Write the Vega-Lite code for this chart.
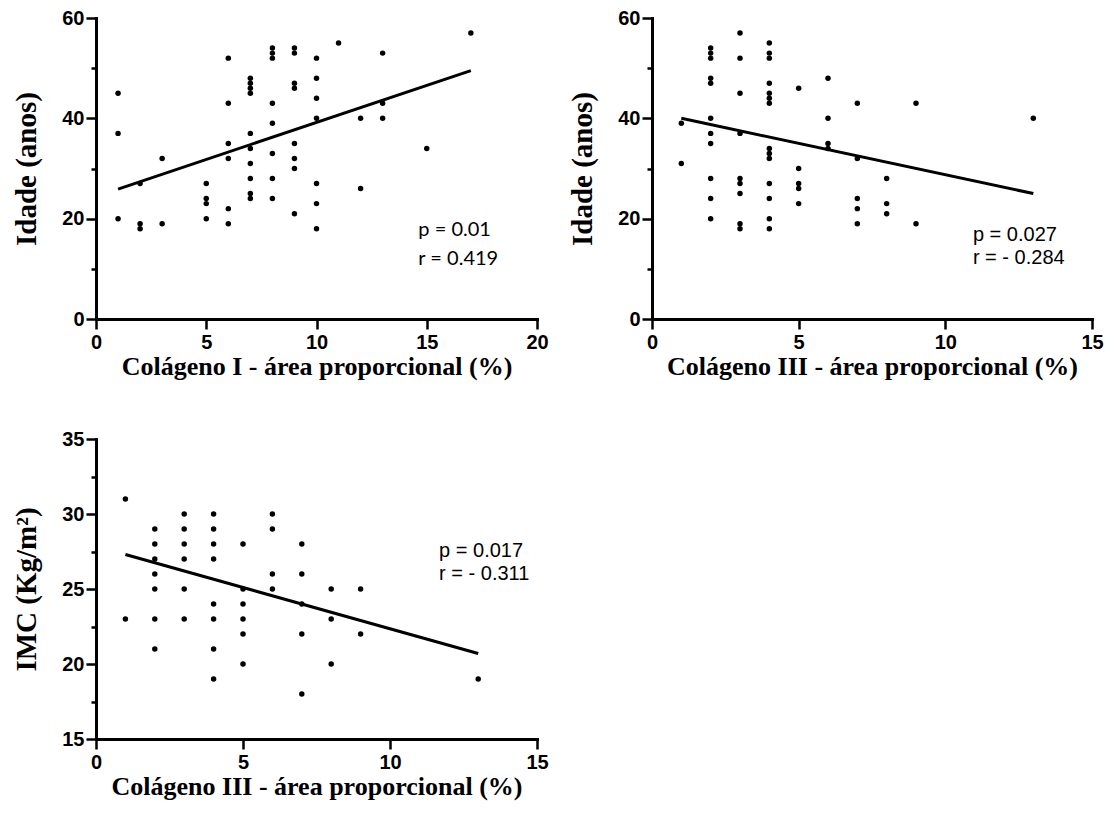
{
  "$schema": "https://vega.github.io/schema/vega-lite/v6.json",
  "background": "white",
  "padding": {"left": 12, "top": 8, "right": 5, "bottom": 5},
  "datasets": {
    "p1": [
      {"colageno": 1, "idade": 45}, {"colageno": 1, "idade": 37}, {"colageno": 1, "idade": 20},
      {"colageno": 2, "idade": 27}, {"colageno": 2, "idade": 19}, {"colageno": 2, "idade": 18},
      {"colageno": 3, "idade": 32}, {"colageno": 3, "idade": 19},
      {"colageno": 5, "idade": 27}, {"colageno": 5, "idade": 24}, {"colageno": 5, "idade": 23}, {"colageno": 5, "idade": 20},
      {"colageno": 6, "idade": 52}, {"colageno": 6, "idade": 43}, {"colageno": 6, "idade": 35}, {"colageno": 6, "idade": 32}, {"colageno": 6, "idade": 22}, {"colageno": 6, "idade": 19},
      {"colageno": 7, "idade": 48}, {"colageno": 7, "idade": 47}, {"colageno": 7, "idade": 46}, {"colageno": 7, "idade": 45}, {"colageno": 7, "idade": 37}, {"colageno": 7, "idade": 34}, {"colageno": 7, "idade": 31}, {"colageno": 7, "idade": 28}, {"colageno": 7, "idade": 25}, {"colageno": 7, "idade": 24},
      {"colageno": 8, "idade": 54}, {"colageno": 8, "idade": 53}, {"colageno": 8, "idade": 52}, {"colageno": 8, "idade": 43}, {"colageno": 8, "idade": 39}, {"colageno": 8, "idade": 33}, {"colageno": 8, "idade": 28}, {"colageno": 8, "idade": 24},
      {"colageno": 9, "idade": 54}, {"colageno": 9, "idade": 53}, {"colageno": 9, "idade": 47}, {"colageno": 9, "idade": 46}, {"colageno": 9, "idade": 35}, {"colageno": 9, "idade": 32}, {"colageno": 9, "idade": 30}, {"colageno": 9, "idade": 21},
      {"colageno": 10, "idade": 52}, {"colageno": 10, "idade": 48}, {"colageno": 10, "idade": 44}, {"colageno": 10, "idade": 40}, {"colageno": 10, "idade": 27}, {"colageno": 10, "idade": 23}, {"colageno": 10, "idade": 18},
      {"colageno": 11, "idade": 55},
      {"colageno": 12, "idade": 40}, {"colageno": 12, "idade": 26},
      {"colageno": 13, "idade": 53}, {"colageno": 13, "idade": 43}, {"colageno": 13, "idade": 40},
      {"colageno": 15, "idade": 34},
      {"colageno": 17, "idade": 57}
    ],
    "fit1": [{"colageno": 1, "idade": 25.9}, {"colageno": 17, "idade": 49.5}],
    "p2": [
      {"colageno": 1, "idade": 39}, {"colageno": 1, "idade": 31},
      {"colageno": 2, "idade": 54}, {"colageno": 2, "idade": 53}, {"colageno": 2, "idade": 52}, {"colageno": 2, "idade": 48}, {"colageno": 2, "idade": 47}, {"colageno": 2, "idade": 40}, {"colageno": 2, "idade": 37}, {"colageno": 2, "idade": 35}, {"colageno": 2, "idade": 28}, {"colageno": 2, "idade": 24}, {"colageno": 2, "idade": 20},
      {"colageno": 3, "idade": 57}, {"colageno": 3, "idade": 52}, {"colageno": 3, "idade": 45}, {"colageno": 3, "idade": 37}, {"colageno": 3, "idade": 28}, {"colageno": 3, "idade": 27}, {"colageno": 3, "idade": 25}, {"colageno": 3, "idade": 19}, {"colageno": 3, "idade": 18},
      {"colageno": 4, "idade": 55}, {"colageno": 4, "idade": 53}, {"colageno": 4, "idade": 52}, {"colageno": 4, "idade": 47}, {"colageno": 4, "idade": 45}, {"colageno": 4, "idade": 44}, {"colageno": 4, "idade": 43}, {"colageno": 4, "idade": 34}, {"colageno": 4, "idade": 33}, {"colageno": 4, "idade": 32}, {"colageno": 4, "idade": 27}, {"colageno": 4, "idade": 24}, {"colageno": 4, "idade": 20}, {"colageno": 4, "idade": 18},
      {"colageno": 5, "idade": 46}, {"colageno": 5, "idade": 30}, {"colageno": 5, "idade": 27}, {"colageno": 5, "idade": 26}, {"colageno": 5, "idade": 23},
      {"colageno": 6, "idade": 48}, {"colageno": 6, "idade": 40}, {"colageno": 6, "idade": 35}, {"colageno": 6, "idade": 34},
      {"colageno": 7, "idade": 43}, {"colageno": 7, "idade": 32}, {"colageno": 7, "idade": 24}, {"colageno": 7, "idade": 22}, {"colageno": 7, "idade": 19},
      {"colageno": 8, "idade": 28}, {"colageno": 8, "idade": 23}, {"colageno": 8, "idade": 21},
      {"colageno": 9, "idade": 43}, {"colageno": 9, "idade": 19},
      {"colageno": 13, "idade": 40}
    ],
    "fit2": [{"colageno": 1, "idade": 40.0}, {"colageno": 13, "idade": 25.0}],
    "p3": [
      {"colageno": 1, "imc": 31}, {"colageno": 1, "imc": 23},
      {"colageno": 2, "imc": 29}, {"colageno": 2, "imc": 28}, {"colageno": 2, "imc": 27}, {"colageno": 2, "imc": 26}, {"colageno": 2, "imc": 25}, {"colageno": 2, "imc": 23}, {"colageno": 2, "imc": 21},
      {"colageno": 3, "imc": 30}, {"colageno": 3, "imc": 29}, {"colageno": 3, "imc": 28}, {"colageno": 3, "imc": 27}, {"colageno": 3, "imc": 25}, {"colageno": 3, "imc": 23},
      {"colageno": 4, "imc": 30}, {"colageno": 4, "imc": 29}, {"colageno": 4, "imc": 28}, {"colageno": 4, "imc": 27}, {"colageno": 4, "imc": 24}, {"colageno": 4, "imc": 23}, {"colageno": 4, "imc": 21}, {"colageno": 4, "imc": 19},
      {"colageno": 5, "imc": 28}, {"colageno": 5, "imc": 25}, {"colageno": 5, "imc": 24}, {"colageno": 5, "imc": 23}, {"colageno": 5, "imc": 22}, {"colageno": 5, "imc": 20},
      {"colageno": 6, "imc": 30}, {"colageno": 6, "imc": 29}, {"colageno": 6, "imc": 26}, {"colageno": 6, "imc": 25},
      {"colageno": 7, "imc": 28}, {"colageno": 7, "imc": 26}, {"colageno": 7, "imc": 24}, {"colageno": 7, "imc": 22}, {"colageno": 7, "imc": 18},
      {"colageno": 8, "imc": 25}, {"colageno": 8, "imc": 23}, {"colageno": 8, "imc": 20},
      {"colageno": 9, "imc": 25}, {"colageno": 9, "imc": 22},
      {"colageno": 13, "imc": 19}
    ],
    "fit3": [{"colageno": 1, "imc": 27.3}, {"colageno": 13, "imc": 20.7}]
  },
  "config": {
    "view": {"stroke": null},
    "font": "Liberation Sans",
    "axis": {
      "domainColor": "black", "domainWidth": 3, "domainCap": "square",
      "tickColor": "black", "tickWidth": 2.5, "tickSize": 10,
      "grid": false, "labelOverlap": false, "labelFlush": false,
      "labelFont": "Liberation Sans", "labelFontWeight": "bold", "labelFontSize": 20, "labelColor": "black", "labelPadding": 2,
      "titleFont": "Liberation Serif", "titleFontWeight": "bold", "titleColor": "black", "titleFontSize": 26
    },
    "axisX": {"titlePadding": 1, "labelPadding": 3},
    "axisY": {"titleFontSize": 29, "titlePadding": 20}
  },
  "columns": 2,
  "spacing": {"row": 120, "column": 115},
  "bounds": "flush",
  "concat": [
    {
      "width": 441, "height": 301,
      "resolve": {"axis": {"y": "independent"}},
      "layer": [
        {
          "data": {"name": "p1"},
          "mark": {"type": "circle", "size": 30, "color": "black", "opacity": 1},
          "encoding": {
            "x": {"field": "colageno", "type": "quantitative", "scale": {"domain": [0, 20], "nice": false}, "axis": {"values": [0, 5, 10, 15, 20], "title": "Colágeno I - área proporcional (%)"}},
            "y": {"field": "idade", "type": "quantitative", "scale": {"domain": [0, 60], "nice": false}, "axis": {"values": [0, 20, 40, 60], "title": "Idade (anos)", "orient": "left"}}
          }
        },
        {
          "data": {"name": "p1"},
          "mark": {"type": "point", "opacity": 0},
          "encoding": {
            "x": {"field": "colageno", "type": "quantitative"},
            "y": {"field": "idade", "type": "quantitative", "axis": {"values": [10, 30, 50], "tickSize": 5, "labels": false, "domain": false, "title": null, "orient": "left"}}
          }
        },
        {
          "data": {"name": "fit1"},
          "mark": {"type": "line", "color": "black", "strokeWidth": 3},
          "encoding": {
            "x": {"field": "colageno", "type": "quantitative"},
            "y": {"field": "idade", "type": "quantitative", "axis": null}
          }
        },
        {
          "data": {"values": [{}]},
          "mark": {"type": "text", "align": "left", "baseline": "alphabetic", "font": "Lato", "fontSize": 20, "color": "black"},
          "encoding": {"x": {"datum": 14.62, "type": "quantitative"}, "y": {"datum": 16.46, "type": "quantitative", "axis": null}, "text": {"value": "p = 0.01"}}
        },
        {
          "data": {"values": [{}]},
          "mark": {"type": "text", "align": "left", "baseline": "alphabetic", "font": "Lato", "fontSize": 20, "color": "black"},
          "encoding": {"x": {"datum": 14.62, "type": "quantitative"}, "y": {"datum": 10.8, "type": "quantitative", "axis": null}, "text": {"value": "r = 0.419"}}
        }
      ]
    },
    {
      "width": 440, "height": 301,
      "resolve": {"axis": {"y": "independent"}},
      "layer": [
        {
          "data": {"name": "p2"},
          "mark": {"type": "circle", "size": 30, "color": "black", "opacity": 1},
          "encoding": {
            "x": {"field": "colageno", "type": "quantitative", "scale": {"domain": [0, 15], "nice": false}, "axis": {"values": [0, 5, 10, 15], "title": "Colágeno III - área proporcional (%)"}},
            "y": {"field": "idade", "type": "quantitative", "scale": {"domain": [0, 60], "nice": false}, "axis": {"values": [0, 20, 40, 60], "title": "Idade (anos)", "orient": "left"}}
          }
        },
        {
          "data": {"name": "p2"},
          "mark": {"type": "point", "opacity": 0},
          "encoding": {
            "x": {"field": "colageno", "type": "quantitative"},
            "y": {"field": "idade", "type": "quantitative", "axis": {"values": [10, 30, 50], "tickSize": 5, "labels": false, "domain": false, "title": null, "orient": "left"}}
          }
        },
        {
          "data": {"name": "fit2"},
          "mark": {"type": "line", "color": "black", "strokeWidth": 3},
          "encoding": {
            "x": {"field": "colageno", "type": "quantitative"},
            "y": {"field": "idade", "type": "quantitative", "axis": null}
          }
        },
        {
          "data": {"values": [{}]},
          "mark": {"type": "text", "align": "left", "baseline": "alphabetic", "font": "Liberation Sans", "fontSize": 20, "color": "black"},
          "encoding": {"x": {"datum": 10.94, "type": "quantitative"}, "y": {"datum": 15.5, "type": "quantitative", "axis": null}, "text": {"value": "p = 0.027"}}
        },
        {
          "data": {"values": [{}]},
          "mark": {"type": "text", "align": "left", "baseline": "alphabetic", "font": "Liberation Sans", "fontSize": 20, "color": "black"},
          "encoding": {"x": {"datum": 10.94, "type": "quantitative"}, "y": {"datum": 11.0, "type": "quantitative", "axis": null}, "text": {"value": "r = - 0.284"}}
        }
      ]
    },
    {
      "width": 441, "height": 300,
      "resolve": {"axis": {"y": "independent"}},
      "layer": [
        {
          "data": {"name": "p3"},
          "mark": {"type": "circle", "size": 30, "color": "black", "opacity": 1},
          "encoding": {
            "x": {"field": "colageno", "type": "quantitative", "scale": {"domain": [0, 15], "nice": false}, "axis": {"values": [0, 5, 10, 15], "title": "Colágeno III - área proporcional (%)"}},
            "y": {"field": "imc", "type": "quantitative", "scale": {"domain": [15, 35], "nice": false, "zero": false}, "axis": {"values": [15, 20, 25, 30, 35], "title": "IMC (Kg/m²)", "orient": "left"}}
          }
        },
        {
          "data": {"name": "p3"},
          "mark": {"type": "point", "opacity": 0},
          "encoding": {
            "x": {"field": "colageno", "type": "quantitative"},
            "y": {"field": "imc", "type": "quantitative", "axis": {"values": [17.5, 22.5, 27.5, 32.5], "tickSize": 5, "labels": false, "domain": false, "title": null, "orient": "left"}}
          }
        },
        {
          "data": {"name": "fit3"},
          "mark": {"type": "line", "color": "black", "strokeWidth": 3},
          "encoding": {
            "x": {"field": "colageno", "type": "quantitative"},
            "y": {"field": "imc", "type": "quantitative", "axis": null}
          }
        },
        {
          "data": {"values": [{}]},
          "mark": {"type": "text", "align": "left", "baseline": "alphabetic", "font": "Liberation Sans", "fontSize": 20, "color": "black"},
          "encoding": {"x": {"datum": 11.67, "type": "quantitative"}, "y": {"datum": 27.15, "type": "quantitative", "axis": null}, "text": {"value": "p = 0.017"}}
        },
        {
          "data": {"values": [{}]},
          "mark": {"type": "text", "align": "left", "baseline": "alphabetic", "font": "Liberation Sans", "fontSize": 20, "color": "black"},
          "encoding": {"x": {"datum": 11.67, "type": "quantitative"}, "y": {"datum": 25.62, "type": "quantitative", "axis": null}, "text": {"value": "r = - 0.311"}}
        }
      ]
    }
  ]
}
